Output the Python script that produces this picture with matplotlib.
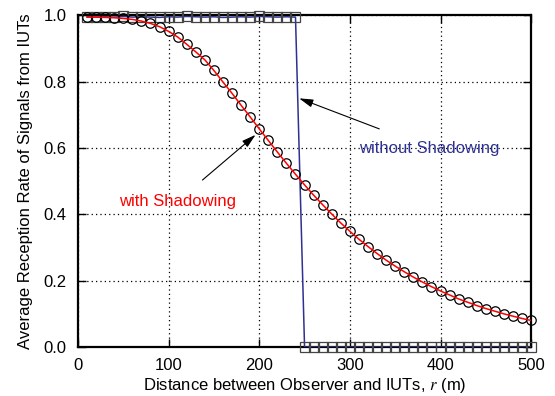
import numpy as np
import matplotlib
matplotlib.use("Agg")
import matplotlib.pyplot as plt

# distance from observer (m)
r_shadow = np.arange(10, 501, 10)
rate_shadow = [0.995, 0.995, 0.994, 0.993, 0.991, 0.988, 0.983, 0.976, 0.966, 0.952,
               0.935, 0.913, 0.890, 0.866, 0.834, 0.799, 0.765, 0.729, 0.694, 0.658,
               0.623, 0.588, 0.554, 0.521, 0.489, 0.458, 0.429, 0.401, 0.374, 0.349,
               0.325, 0.303, 0.282, 0.262, 0.244, 0.227, 0.211, 0.196, 0.182, 0.169,
               0.157, 0.145, 0.135, 0.125, 0.116, 0.108, 0.100, 0.093, 0.086, 0.080]

r_noshadow = np.arange(10, 501, 10)
rate_noshadow = [0.996, 0.995, 0.996, 0.995, 0.997, 0.995, 0.996, 0.995, 0.994, 0.996,
                 0.995, 0.997, 0.996, 0.995, 0.996, 0.994, 0.995, 0.996, 0.995, 0.997,
                 0.996, 0.995, 0.996, 0.995,
                 0.0, 0.0, 0.0, 0.0, 0.0, 0.0, 0.0, 0.0, 0.0, 0.0, 0.0, 0.0, 0.0,
                 0.0, 0.0, 0.0, 0.0, 0.0, 0.0, 0.0, 0.0, 0.0, 0.0, 0.0, 0.0, 0.0]

plt.rcParams['font.family'] = ['Liberation Sans', 'DejaVu Sans']
plt.rcParams['mathtext.fontset'] = 'stix'

fig = plt.figure(figsize=(5.55, 3.96), dpi=100)
ax = fig.add_axes([0.1405, 0.1237, 0.8165, 0.8373])

blue = '#2e3192'
ax.plot(r_noshadow, rate_noshadow, color=blue, lw=1.1, zorder=3)
ax.plot(r_noshadow, rate_noshadow, ls='none', marker='s', ms=7, mfc='none',
        mec='#444444', mew=0.9, clip_on=False, zorder=4)
ax.plot(r_shadow, rate_shadow, ls='none', marker='o', ms=6.8, mfc='none',
        mec='black', mew=0.9, clip_on=False, zorder=4)
ax.plot(r_shadow, rate_shadow, color='red', lw=1.1, zorder=5)

ax.set_xlim(0, 500)
ax.set_ylim(0, 1.0)
ax.set_xticks([0, 100, 200, 300, 400, 500])
ax.set_yticks([0.0, 0.2, 0.4, 0.6, 0.8, 1.0])
ax.set_yticklabels(['0.0', '0.2', '0.4', '0.6', '0.8', '1.0'])
ax.tick_params(direction='in', length=6, width=1, top=True, right=True,
               labelsize=12, pad=8)
ax.grid(True, color='black', ls=(0, (1, 2.5)), lw=0.9)
for s in ax.spines.values():
    s.set_linewidth(1.6)

ax.set_xlabel('Distance between Observer and IUTs, $r$ (m)', fontsize=12, labelpad=2)
ax.set_ylabel('Average Reception Rate of Signals from IUTs', fontsize=12, labelpad=8)

ax.annotate('without Shadowing', xy=(244, 0.75), xytext=(388, 0.60),
            color=blue, fontsize=12, ha='center', va='center',
            arrowprops=dict(arrowstyle='-|>,head_length=0.7,head_width=0.2',
                            color='black', lw=0.8, shrinkA=18, shrinkB=0))
ax.annotate('with Shadowing', xy=(196, 0.64), xytext=(110, 0.44),
            color='red', fontsize=12, ha='center', va='center',
            arrowprops=dict(arrowstyle='-|>,head_length=0.7,head_width=0.2',
                            color='black', lw=0.8, shrinkA=12, shrinkB=0))

fig.savefig('out.png', dpi=100)
